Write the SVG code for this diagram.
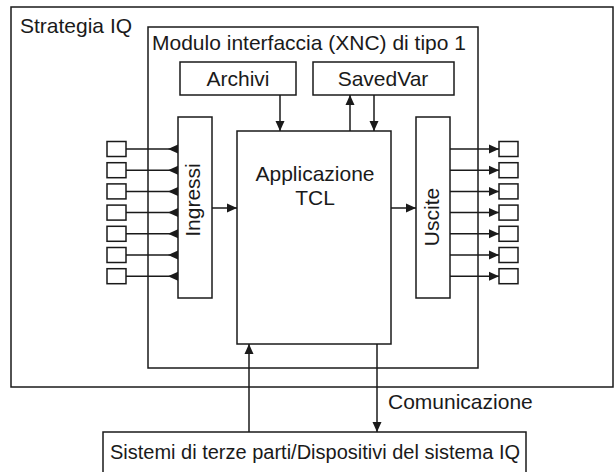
<svg xmlns="http://www.w3.org/2000/svg" width="616" height="472" viewBox="0 0 616 472">
<defs>
<style>
rect{fill:#fff;stroke:#1a1a1a;stroke-width:1.5}
.c line{stroke:#1a1a1a;stroke-width:1.5}
text{font-family:"Liberation Sans",Arial,sans-serif;font-size:21px;fill:#1a1a1a}
.m{text-anchor:middle}
.s{font-size:20px}
</style>
<marker id="a" markerUnits="userSpaceOnUse" markerWidth="10" markerHeight="10" refX="10" refY="5" orient="auto"><path d="M0,0.5L10,5L0,9.5z" fill="#1a1a1a"/></marker>
<marker id="r" markerUnits="userSpaceOnUse" markerWidth="10" markerHeight="10" refX="10" refY="5" orient="auto"><path d="M10,0.5L0,5L10,9.5z" fill="#1a1a1a"/></marker>
</defs>
<rect x="0" y="0" width="616" height="472" style="stroke:none"/>
<g id="strategia"><rect x="11" y="7" width="602" height="380"/><text x="20" y="33">Strategia IQ</text></g>
<g id="modulo"><rect x="148" y="27" width="330" height="341"/><text x="152" y="50">Modulo interfaccia (XNC) di tipo 1</text></g>
<g id="archivi"><rect x="180" y="62" width="116" height="33"/><text class="m" x="238" y="86">Archivi</text></g>
<g id="savedvar"><rect x="313" y="62" width="141" height="33"/><text class="m" x="383" y="86">SavedVar</text></g>
<g id="tcl"><rect x="237" y="131" width="154" height="213"/><text class="m" x="315" y="181">Applicazione</text><text class="m" x="315" y="205">TCL</text></g>
<g id="ingressi"><rect x="178" y="117" width="34" height="181"/><text class="m" transform="translate(200,200) rotate(-90)">Ingressi</text></g>
<g id="uscite"><rect x="416" y="117" width="34" height="181"/><text class="m" transform="translate(439,217) rotate(-90)">Uscite</text></g>
<g id="in1"><rect x="107" y="141.5" width="19" height="15"/></g>
<g id="in2"><rect x="107" y="162.7" width="19" height="15"/></g>
<g id="in3"><rect x="107" y="183.9" width="19" height="15"/></g>
<g id="in4"><rect x="107" y="205.1" width="19" height="15"/></g>
<g id="in5"><rect x="107" y="226.3" width="19" height="15"/></g>
<g id="in6"><rect x="107" y="247.5" width="19" height="15"/></g>
<g id="in7"><rect x="107" y="268.7" width="19" height="15"/></g>
<g id="out1"><rect x="499" y="141.5" width="19" height="15"/></g>
<g id="out2"><rect x="499" y="162.7" width="19" height="15"/></g>
<g id="out3"><rect x="499" y="183.9" width="19" height="15"/></g>
<g id="out4"><rect x="499" y="205.1" width="19" height="15"/></g>
<g id="out5"><rect x="499" y="226.3" width="19" height="15"/></g>
<g id="out6"><rect x="499" y="247.5" width="19" height="15"/></g>
<g id="out7"><rect x="499" y="268.7" width="19" height="15"/></g>
<g id="sistemi"><rect x="103" y="432" width="423" height="60"/><text class="m s" x="315" y="459">Sistemi di terze parti/Dispositivi del sistema IQ</text></g>
<g id="connectors" class="c">
<line x1="126" y1="149" x2="178" y2="149" marker-end="url(#r)"/>
<line x1="126" y1="170.2" x2="178" y2="170.2" marker-end="url(#r)"/>
<line x1="126" y1="191.4" x2="178" y2="191.4" marker-end="url(#r)"/>
<line x1="126" y1="212.6" x2="178" y2="212.6" marker-end="url(#r)"/>
<line x1="126" y1="233.8" x2="178" y2="233.8" marker-end="url(#r)"/>
<line x1="126" y1="255" x2="178" y2="255" marker-end="url(#r)"/>
<line x1="126" y1="276.2" x2="178" y2="276.2" marker-end="url(#r)"/>
<line x1="450" y1="149" x2="499" y2="149" marker-end="url(#a)"/>
<line x1="450" y1="170.2" x2="499" y2="170.2" marker-end="url(#a)"/>
<line x1="450" y1="191.4" x2="499" y2="191.4" marker-end="url(#a)"/>
<line x1="450" y1="212.6" x2="499" y2="212.6" marker-end="url(#a)"/>
<line x1="450" y1="233.8" x2="499" y2="233.8" marker-end="url(#a)"/>
<line x1="450" y1="255" x2="499" y2="255" marker-end="url(#a)"/>
<line x1="450" y1="276.2" x2="499" y2="276.2" marker-end="url(#a)"/>
<line x1="212" y1="208" x2="237" y2="208" marker-end="url(#a)"/>
<line x1="391" y1="208" x2="416" y2="208" marker-end="url(#a)"/>
<line x1="280" y1="95" x2="280" y2="131" marker-end="url(#a)"/>
<line x1="350" y1="131" x2="350" y2="95" marker-end="url(#a)"/>
<line x1="374" y1="95" x2="374" y2="131" marker-end="url(#a)"/>
<line x1="249" y1="432" x2="249" y2="344" marker-end="url(#a)"/>
<line x1="377" y1="344" x2="377" y2="432" marker-end="url(#a)"/>
</g>
<text x="388" y="409">Comunicazione</text>
</svg>
